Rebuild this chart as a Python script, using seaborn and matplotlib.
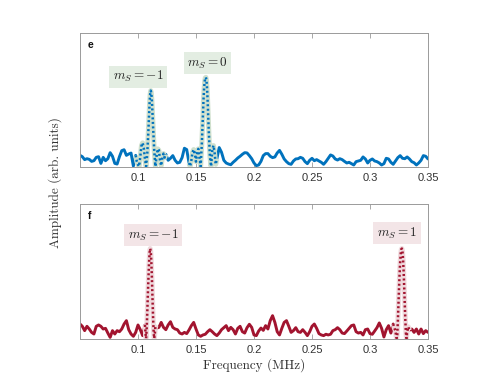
import numpy as np
import pandas as pd
import matplotlib
matplotlib.use("Agg")
import matplotlib.pyplot as plt
import seaborn as sns

# ---------------- data ----------------
freq_grid = np.round(np.linspace(0.050, 0.350, 151), 4)  # MHz, 0.002 step

N = None
amp_e = [
    0.087, 0.077, 0.055, 0.062, 0.057, 0.042, 0.047, 0.072, 0.077, 0.027,
    0.072, 0.047, 0.062, 0.107, 0.080, 0.027, 0.022, 0.077, 0.122, 0.129,
    0.087, 0.097, 0.104, 0.007, 0.087, N, N, N, N, N,
    N, N, N, N, N, N, N, 0.095, 0.050, 0.065,
    0.085, 0.050, 0.030, 0.035, 0.070, 0.140, 0.130, 0.030, N, N,
    N, N, N, N, N, N, N, N, N, 0.060,
    0.145, 0.110, 0.050, 0.030, 0.022, 0.017, 0.035, 0.050, 0.067, 0.080,
    0.095, 0.107, 0.105, 0.085, 0.062, 0.030, 0.010, 0.015, 0.042, 0.085,
    0.100, 0.100, 0.080, 0.070, 0.075, 0.105, 0.124, 0.095, 0.060, 0.040,
    0.025, 0.020, 0.045, 0.060, 0.062, 0.072, 0.065, 0.040, 0.025, 0.050,
    0.065, 0.047, 0.055, 0.045, 0.035, 0.020, 0.040, 0.065, 0.090, 0.082,
    0.060, 0.052, 0.062, 0.055, 0.042, 0.030, 0.035, 0.025, 0.015, 0.040,
    0.045, 0.050, 0.075, 0.060, 0.030, 0.050, 0.060, 0.045, 0.040, 0.030,
    0.015, 0.025, 0.065, 0.060, 0.035, 0.020, 0.045, 0.070, 0.085, 0.065,
    0.062, 0.075, 0.060, 0.040, 0.032, 0.015, 0.030, 0.050, 0.085, 0.080,
    0.060,
]

amp_f = [
    0.111, 0.094, 0.062, 0.094, 0.074, 0.049, 0.037, 0.094, 0.104, 0.094,
    0.074, 0.079, 0.044, 0.012, 0.062, 0.037, 0.062, 0.054, 0.074, 0.111,
    0.136, 0.069, 0.037, 0.020, 0.049, 0.104, 0.069, 0.025, 0.104, N,
    N, N, N, 0.080, 0.086, 0.123, 0.086, 0.069, 0.104, 0.128,
    0.086, 0.074, 0.069, 0.044, 0.037, 0.049, 0.040, 0.067, 0.099, 0.123,
    0.074, 0.030, 0.020, 0.030, 0.035, 0.054, 0.069, 0.054, 0.037, 0.025,
    0.044, 0.069, 0.084, 0.099, 0.062, 0.086, 0.069, 0.037, 0.079, 0.094,
    0.054, 0.044, 0.084, 0.109, 0.086, 0.030, 0.025, 0.059, 0.081, 0.064,
    0.099, 0.074, 0.136, 0.173, 0.123, 0.054, 0.030, 0.079, 0.123, 0.136,
    0.094, 0.049, 0.062, 0.084, 0.054, 0.049, 0.069, 0.049, 0.025, 0.054,
    0.094, 0.111, 0.079, 0.040, 0.030, 0.025, 0.035, 0.030, 0.035, 0.062,
    0.069, 0.084, 0.069, 0.044, 0.040, 0.059, 0.079, 0.099, 0.104, 0.054,
    0.044, 0.049, 0.030, 0.069, 0.074, 0.040, 0.035, 0.059, 0.084, 0.119,
    0.079, 0.015, 0.069, 0.099, 0.044, 0.111, N, N, N, N,
    N, N, 0.065, 0.074, 0.049, 0.074, 0.037, 0.074, 0.040, 0.062,
    0.049,
]

# resonance regions (drawn dotted)
peak_e1_freq = [0.098, 0.099, 0.100, 0.101, 0.102, 0.103, 0.104, 0.105, 0.106, 0.107,
                0.108, 0.109, 0.1095, 0.110, 0.1105, 0.111, 0.1115, 0.112, 0.1125, 0.113,
                0.114, 0.115, 0.116, 0.117, 0.118, 0.119, 0.120, 0.121, 0.122, 0.123, 0.124]
peak_e1_amp = [0.087, 0.040, 0.017, 0.005, 0.080, 0.160, 0.180, 0.140, 0.060, 0.005,
               0.100, 0.280, 0.380, 0.480, 0.545, 0.570, 0.550, 0.490, 0.400, 0.300,
               0.120, 0.005, 0.080, 0.135, 0.125, 0.050, 0.010, 0.070, 0.100, 0.070, 0.095]

peak_e2_freq = [0.144, 0.145, 0.146, 0.147, 0.148, 0.149, 0.150, 0.151, 0.152, 0.153,
                0.154, 0.155, 0.156, 0.1565, 0.157, 0.1575, 0.158, 0.1585, 0.159, 0.1595,
                0.160, 0.161, 0.162, 0.163, 0.164, 0.165, 0.166, 0.167, 0.168]
peak_e2_amp = [0.030, 0.005, 0.050, 0.110, 0.130, 0.100, 0.040, 0.110, 0.135, 0.070,
               0.005, 0.170, 0.390, 0.510, 0.590, 0.640, 0.665, 0.669, 0.650, 0.590,
               0.500, 0.270, 0.080, 0.005, 0.120, 0.160, 0.110, 0.020, 0.060]

peak_f1_freq = [0.106, 0.1065, 0.107, 0.1075, 0.108, 0.1085, 0.109, 0.1095, 0.110, 0.1105,
                0.111, 0.1115, 0.112, 0.1125, 0.113, 0.1135, 0.114, 0.1145, 0.115, 0.116]
peak_f1_amp = [0.104, 0.040, 0.005, 0.080, 0.200, 0.330, 0.450, 0.560, 0.640, 0.670,
               0.650, 0.570, 0.450, 0.300, 0.160, 0.050, 0.005, 0.040, 0.090, 0.080]

peak_f2_freq = [0.320, 0.321, 0.322, 0.3225, 0.323, 0.3235, 0.324, 0.3245, 0.325, 0.3255,
                0.326, 0.3265, 0.327, 0.3275, 0.328, 0.3285, 0.329, 0.3295, 0.330, 0.3305,
                0.331, 0.3315, 0.332, 0.333, 0.334]
peak_f2_amp = [0.111, 0.080, 0.060, 0.020, 0.005, 0.030, 0.130, 0.250, 0.370, 0.480,
               0.570, 0.630, 0.665, 0.670, 0.650, 0.590, 0.500, 0.380, 0.250, 0.130,
               0.040, 0.005, 0.050, 0.090, 0.065]

labels_e = ["$m_S=-1$", "$m_S=0$"]
labels_e_x = [0.100, 0.1600]
labels_e_y = [0.674, 0.776]
labels_f = ["$m_S=-1$", "$m_S=1$"]
labels_f_x = [0.1129, 0.3233]
labels_f_y = [0.770, 0.785]

xticks = [0.1, 0.15, 0.2, 0.25, 0.3, 0.35]
xticklabels = ["0.1", "0.15", "0.2", "0.25", "0.3", "0.35"]

# ---------------- style ----------------
sns.set_style("white")
plt.rcParams["font.family"] = ["Liberation Sans", "DejaVu Sans"]
plt.rcParams["mathtext.fontset"] = "cm"

BLUE = "#0072BD"
RED = "#A2142F"
GREEN_PALE = "#cfe0cd"
PINK_PALE = "#efd8dc"
GREEN_BOX = "#e3ede2"
PINK_BOX = "#f3e5e7"
AXCOL = "#9a9a9a"
TXTCOL = "#333333"

fig = plt.figure(figsize=(4.98, 3.85), dpi=100)
ax_e = fig.add_axes([80 / 498, 1 - 167 / 385, 348 / 498, 134 / 385])
ax_f = fig.add_axes([80 / 498, 1 - 339 / 385, 348 / 498, 135 / 385])


def noise_frame(vals):
    df = pd.DataFrame({"freq": freq_grid, "amp": np.array(vals, dtype=float)})
    df["seg"] = df["amp"].isna().cumsum()
    return df.dropna()


def peak_frame(peaks):
    parts = []
    for i, (f, a) in enumerate(peaks):
        parts.append(pd.DataFrame({"freq": f, "amp": a, "seg": i}))
    return pd.concat(parts, ignore_index=True)


def draw(ax, vals, peaks, color, pale, boxc, labels, lx, ly, tag):
    nd = noise_frame(vals)
    pdf = peak_frame(peaks)
    sns.lineplot(data=nd, x="freq", y="amp", units="seg", estimator=None,
                 sort=False, color=color, linewidth=2.1, legend=False, ax=ax,
                 solid_capstyle="round", solid_joinstyle="round")
    sns.lineplot(data=pdf, x="freq", y="amp", units="seg", estimator=None,
                 sort=False, color=pale, linewidth=3.6, legend=False, ax=ax,
                 solid_capstyle="butt")
    sns.lineplot(data=pdf, x="freq", y="amp", units="seg", estimator=None,
                 sort=False, color=color, linewidth=1.8, legend=False, ax=ax,
                 linestyle=(0, (0.8, 1.0)))
    for t, x, y in zip(labels, lx, ly):
        ax.text(x, y, t, ha="center", va="center", fontsize=9.5, color="#222222",
                bbox=dict(boxstyle="square,pad=0.25", fc=boxc, ec="none"))
    ax.text(0.023, 0.91, tag, transform=ax.transAxes, fontsize=7.5,
            fontweight="bold", ha="left", va="center", color="#111111")
    ax.set_xlim(0.05, 0.35)
    ax.set_ylim(0, 1)
    ax.set_xticks(xticks)
    ax.set_xticklabels(xticklabels)
    ax.set_yticks([])
    ax.set_xlabel("")
    ax.set_ylabel("")
    ax.tick_params(axis="x", direction="in", top=True, bottom=True, length=3.5,
                   width=0.6, color=AXCOL, labelsize=8, labelcolor=TXTCOL, pad=4)
    for s in ax.spines.values():
        s.set_visible(True)
        s.set_color(AXCOL)
        s.set_linewidth(0.7)


draw(ax_e, amp_e, [(peak_e1_freq, peak_e1_amp), (peak_e2_freq, peak_e2_amp)],
     BLUE, GREEN_PALE, GREEN_BOX, labels_e, labels_e_x, labels_e_y, "e")
draw(ax_f, amp_f, [(peak_f1_freq, peak_f1_amp), (peak_f2_freq, peak_f2_amp)],
     RED, PINK_PALE, PINK_BOX, labels_f, labels_f_x, labels_f_y, "f")

fig.text(55 / 498, 1 - 183 / 385, "Amplitude (arb. units)", rotation=90,
         ha="center", va="center", fontsize=9.5, family="cmr10", color=TXTCOL)
fig.text(254 / 498, 1 - 365 / 385, "Frequency (MHz)", ha="center", va="center",
         fontsize=9.5, family="cmr10", color=TXTCOL)

fig.savefig("out.png", dpi=100)
